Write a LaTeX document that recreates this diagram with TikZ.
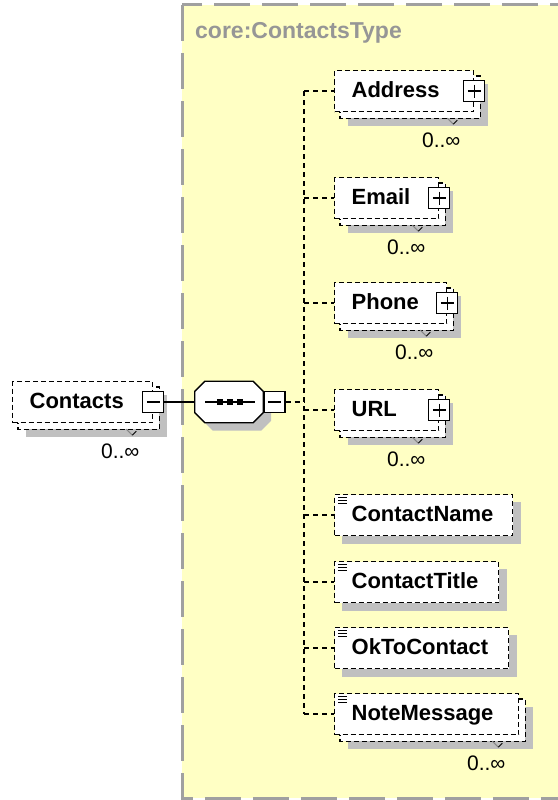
\documentclass[tikz,border=0pt]{standalone}
\usepackage{fontspec}
\setmainfont{Liberation Sans}
\pgfdeclarelayer{bg}
\pgfdeclarelayer{shade}
\pgfdeclarelayer{back}
\pgfsetlayers{bg,shade,back,main}
\definecolor{typefill}{RGB}{255,255,196}
\definecolor{typeline}{RGB}{160,160,160}
\definecolor{typetext}{RGB}{150,150,150}
\definecolor{shadegrey}{RGB}{192,192,192}
\tikzset{
  elemline/.style={dash pattern=on 5pt off 3pt, line width=1.3pt},
  elem/.style={draw, elemline, fill=white, anchor=west, minimum height=41pt,
    inner xsep=17pt, inner ysep=0pt, text height=16pt, text depth=4pt, align=left,
    font=\fontsize{22}{24}\selectfont\bfseries},
  optline/.style={dash pattern=on 5pt off 4pt, line width=1.3pt},
  boxbase/.style={draw, solid, line width=1.3pt, fill=white, minimum size=21pt, inner sep=0pt},
  plusbox/.style={boxbase, path picture={
    \draw[line width=1.3pt] ([xshift=4pt]path picture bounding box.west) -- ([xshift=-4pt]path picture bounding box.east)
      ([yshift=-4pt]path picture bounding box.north) -- ([yshift=4pt]path picture bounding box.south);}},
  minusbox/.style={boxbase, path picture={
    \draw[line width=1.3pt] ([xshift=4pt]path picture bounding box.west) -- ([xshift=-4pt]path picture bounding box.east);}},
  seqbox/.style={minimum width=68pt, minimum height=41pt, inner sep=0pt},
  octo/.style={insert path={([shift={(10,0)}]#1.north west) -- ([shift={(-10,0)}]#1.north east)
    -- ([shift={(0,10)}]#1.north east) -- ([shift={(0,-10)}]#1.south east)
    -- ([shift={(-10,0)}]#1.south east) -- ([shift={(10,0)}]#1.south west)
    -- ([shift={(0,-10)}]#1.south west) -- ([shift={(0,10)}]#1.north west) -- cycle}},
  occurs/.style={font=\fontsize{21}{23}\selectfont, inner sep=0pt}
}
\begin{document}
\begin{tikzpicture}[x=1pt,y=-1pt]
\path[use as bounding box] (0,0) rectangle (557,800);
% complex type frame
\begin{pgfonlayer}{bg}
\draw[typeline, fill=typefill, line width=3pt, dash pattern=on 36pt off 12pt] (182,5) rectangle (575,798);
\end{pgfonlayer}
\node[anchor=west, text=typetext, inner sep=0pt, font=\fontsize{23}{25}\selectfont\bfseries] (typename) at (195,33) {core:ContactsType};
% elements
\node[elem, text width=106pt] (contacts) at (12,402) {Contacts};
\node[minusbox] (contactsminus) at (contacts.east) {};
\node[seqbox] (seq) at (229,402) {};
\draw[line width=1.3pt, fill=white, octo=seq];
\node[minusbox, anchor=west] (seqminus) at (seq.east) {};
\coordinate (fork) at (304,402);
\node[elem, text width=105pt] (address) at (334,91) {Address};
\node[elem, text width=70pt] (email) at (334,198) {Email};
\node[elem, text width=78pt] (phone) at (334,303) {Phone};
\node[elem, text width=70pt] (url) at (334,410) {URL};
\node[elem, text width=144pt] (cname) at (334,515) {ContactName};
\node[elem, text width=130pt] (ctitle) at (334,582) {ContactTitle};
\node[elem, text width=140pt] (okcontact) at (334,648) {OkToContact};
\node[elem, text width=150pt] (note) at (334,714) {NoteMessage};
\foreach \n in {address,email,phone,url}
  \node[plusbox] (\n plus) at (\n.east) {};
% sequence dots
\draw[line width=1.3pt] ([xshift=-24]seq.center) -- ([xshift=26]seq.center);
\foreach \dx in {-9,1,11}
  \fill ([shift={(\dx-3,-3)}]seq.center) rectangle ++(6,6);
% simple type marks
\foreach \n in {cname,ctitle,okcontact,note}
  \foreach \dy in {3.5,6.5,9.5}
    \draw[line width=1pt] ([shift={(4,\dy)}]\n.north west) -- ++(9,0);
% second copies and shadows
\begin{pgfonlayer}{back}
\foreach \n in {contacts,address,email,phone,url,note}
  \draw[elemline, fill=white] ([shift={(6,6)}]\n.north west) rectangle ([shift={(6,6)}]\n.south east);
\end{pgfonlayer}
\begin{pgfonlayer}{shade}
\foreach \n in {contacts,address,email,phone,url,note}
  \fill[shadegrey] ([shift={(14,14)}]\n.north west) rectangle ([shift={(14,14)}]\n.south east);
\foreach \n in {cname,ctitle,okcontact}
  \fill[shadegrey] ([shift={(8,8)}]\n.north west) rectangle ([shift={(8,8)}]\n.south east);
\node[seqbox] (seqshade) at ([shift={(8,8)}]seq.center) {};
\fill[shadegrey, octo=seqshade];
\end{pgfonlayer}
% occurrences
\foreach \n in {contacts,address,email,phone,url,note} {
  \node[occurs] (\n occ) at ([shift={(-33,28)}]\n.south east) {0..∞};
  \draw[shadegrey!70!black, line width=1pt] ([shift={(-27,6)}]\n.south east) -- ++(6,6);
  \draw[line width=1pt] ([shift={(-21,12)}]\n.south east) -- ++(4,-4);
}
% connectors
\draw[line width=1.3pt] (contactsminus) -- (seq);
\draw[optline] (seqminus) -- (fork);
\draw[optline] (fork |- address.west) -- (fork |- note.west);
\foreach \n in {address,email,phone,url,cname,ctitle,okcontact,note}
  \draw[optline] (fork |- \n.west) -- (\n.west);
\end{tikzpicture}
\end{document}
